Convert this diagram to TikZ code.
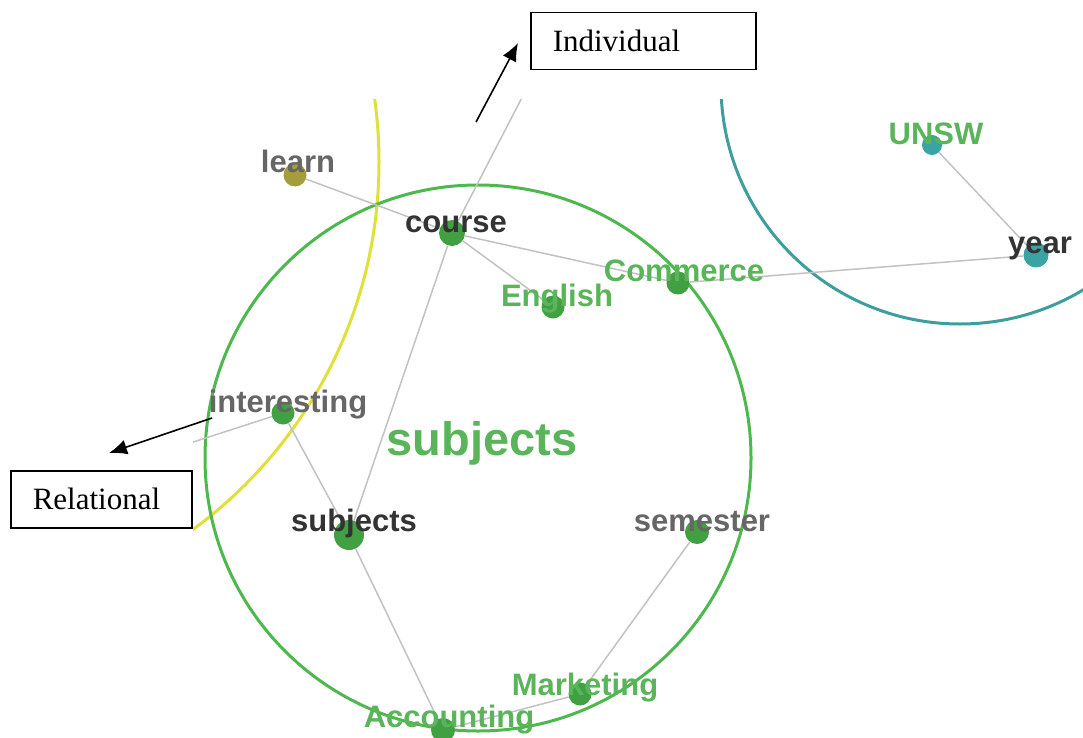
\documentclass[tikz,border=0pt]{standalone}
\usepackage{fontspec}
\setmainfont{Liberation Serif}
\newfontfamily\labelfont{Liberation Sans}
\usetikzlibrary{arrows.meta}

\definecolor{edgegray}{HTML}{C2C2C2}
\definecolor{ringgreen}{HTML}{4DB84D}
\definecolor{dotgreen}{HTML}{41A041}
\definecolor{txtgreen}{HTML}{5AB55A}
\definecolor{txtgray}{HTML}{666666}
\definecolor{txtdark}{HTML}{333333}
\definecolor{ringteal}{HTML}{3D9E9E}
\definecolor{dotteal}{HTML}{3AA3A3}
\definecolor{dotolive}{HTML}{A59D3C}
\definecolor{ringyellow}{HTML}{E0E03A}

\tikzset{
  ring/.style={line width=3pt},
  edge/.style={draw=edgegray, line width=1.5pt},
  vdot/.style={circle, inner sep=0pt, minimum size=#1},
  lbl/.style={font=\labelfont\bfseries\fontsize{31}{31}\selectfont, anchor=base, inner sep=0pt},
  biglbl/.style={font=\labelfont\bfseries\fontsize{47}{47}\selectfont, anchor=base, inner sep=0pt, text=txtgreen},
  tagbox/.style={draw=black, line width=1.5pt, anchor=north west, minimum height=57pt,
    inner xsep=22pt, align=left, font=\fontsize{31}{31}\selectfont},
  pointer/.style={draw=black, line width=1.6pt, -{Latex[length=18pt,width=15pt]}}
}

\begin{document}
\begin{tikzpicture}[x=1pt, y=-1pt]
\useasboundingbox (0,0) rectangle (1083,738);

\begin{scope}
  \clip (193,100) rectangle (1083,738);
  % cluster rings
  \draw[ring, draw=ringyellow] (-77,162) circle [radius=456];
  \draw[ring, draw=ringgreen] (478,458) circle [radius=273];
  \draw[ring, draw=ringteal] (960,85) circle [radius=239];

  % term nodes
  \node[vdot=23pt, fill=dotolive] (learn) at (295,175) {};
  \node[vdot=26pt, fill=dotgreen] (course) at (452,233) {};
  \node[vdot=23pt, fill=dotgreen] (english) at (553,307) {};
  \node[vdot=23pt, fill=dotgreen] (commerce) at (678,283) {};
  \node[vdot=23pt, fill=dotgreen] (interesting) at (283,413) {};
  \node[vdot=30pt, fill=dotgreen] (subjects) at (349,535) {};
  \node[vdot=24pt, fill=dotgreen] (semester) at (697,532) {};
  \node[vdot=23pt, fill=dotgreen] (marketing) at (580,694) {};
  \node[vdot=24pt, fill=dotgreen] (accounting) at (443,730) {};
  \node[vdot=20pt, fill=dotteal] (unsw) at (932,145) {};
  \node[vdot=25pt, fill=dotteal] (year) at (1036,255) {};
  \coordinate (upout) at (545,53);
  \coordinate (leftout) at (150,456);

  % links
  \draw[edge] (learn) -- (course);
  \draw[edge] (course) -- (english);
  \draw[edge] (course) -- (commerce);
  \draw[edge] (commerce) -- (year);
  \draw[edge] (unsw) -- (year);
  \draw[edge] (course) -- (upout);
  \draw[edge] (subjects) -- (course);
  \draw[edge] (interesting) -- (subjects);
  \draw[edge] (interesting) -- (leftout);
  \draw[edge] (subjects) -- (accounting);
  \draw[edge] (semester) -- (marketing);
  \draw[edge] (marketing) -- (accounting);

  % labels
  \node[lbl, text=txtgray] (learnL) at (298,173) {learn};
  \node[lbl, text=txtdark] (courseL) at (456,232) {course};
  \node[lbl, text=txtgreen] (englishL) at (557,306) {English};
  \node[lbl, text=txtgreen] (commerceL) at (684,281) {Commerce};
  \node[lbl, text=txtgray] (interestingL) at (288,412) {interesting};
  \node[lbl, text=txtdark] (subjectsL) at (354,531) {subjects};
  \node[lbl, text=txtgray] (semesterL) at (702,531) {semester};
  \node[lbl, text=txtgreen] (marketingL) at (585,695) {Marketing};
  \node[lbl, text=txtgreen] (accountingL) at (449,727) {Accounting};
  \node[lbl, text=txtgreen] (unswL) at (936,145) {UNSW};
  \node[lbl, text=txtdark] (yearL) at (1040,253) {year};
  \node[biglbl] (clusterL) at (482,455) {subjects};
\end{scope}

% annotation boxes and pointers
\node[tagbox, text width=181pt] (indiv) at (530,12) {Individual};
\node[tagbox, text width=137pt] (relat) at (10,470) {Relational};
\coordinate (indivTail) at (476,122);
\coordinate (indivTip) at (518,43);
\coordinate (relatTail) at (212,418);
\coordinate (relatTip) at (109,453);
\draw[pointer] (indivTail) -- (indivTip);
\draw[pointer] (relatTail) -- (relatTip);
\end{tikzpicture}
\end{document}
